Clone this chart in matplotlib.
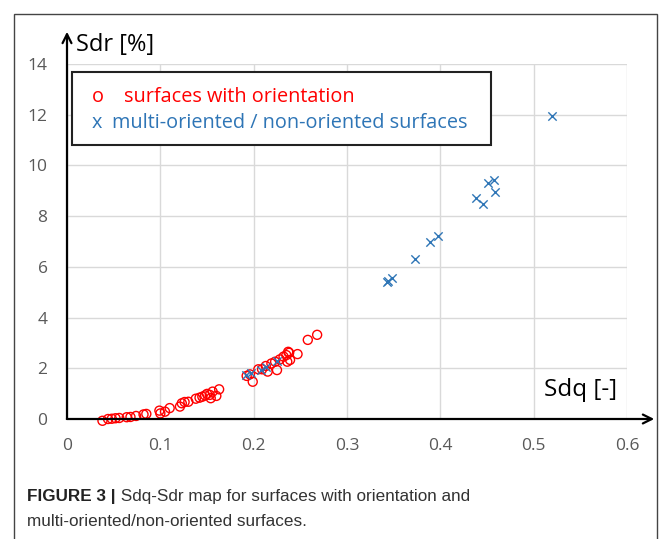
import matplotlib.pyplot as plt
from matplotlib.patches import Rectangle

# surfaces with orientation (red circles)
sdq_oriented = [0.038, 0.044, 0.048, 0.052, 0.056, 0.064, 0.068, 0.074, 0.082, 0.085,
                0.099, 0.100, 0.105, 0.110, 0.121, 0.123, 0.126, 0.130, 0.138, 0.142,
                0.145, 0.148, 0.150, 0.153, 0.154, 0.156, 0.160, 0.163,
                0.1925, 0.196, 0.199, 0.205, 0.209, 0.213, 0.215, 0.219, 0.223, 0.225,
                0.228, 0.232, 0.235, 0.236, 0.238, 0.237, 0.239, 0.247, 0.258, 0.268]
sdr_oriented = [-0.07, 0.0, 0.01, 0.03, 0.04, 0.07, 0.08, 0.12, 0.18, 0.20,
                0.33, 0.22, 0.29, 0.43, 0.49, 0.62, 0.67, 0.68, 0.80, 0.84,
                0.88, 0.93, 0.99, 0.95, 0.82, 1.08, 0.91, 1.17,
                1.70, 1.76, 1.47, 1.96, 1.96, 2.09, 1.87, 2.19, 2.26, 1.93,
                2.35, 2.46, 2.52, 2.26, 2.61, 2.65, 2.33, 2.56, 3.12, 3.32]

# multi-oriented / non-oriented surfaces (blue crosses)
sdq_multi = [0.192, 0.197, 0.208, 0.213, 0.225,
             0.343, 0.344, 0.348, 0.373, 0.389, 0.397,
             0.438, 0.446, 0.451, 0.4575, 0.459, 0.520]
sdr_multi = [1.75, 1.80, 1.95, 2.05, 2.30,
             5.42, 5.44, 5.57, 6.31, 6.97, 7.22,
             8.73, 8.49, 9.32, 9.42, 8.95, 11.95]

x_ticks = [0, 0.1, 0.2, 0.3, 0.4, 0.5, 0.6]
x_labels = ['0', '0.1', '0.2', '0.3', '0.4', '0.5', '0.6']
y_ticks = [0, 2, 4, 6, 8, 10, 12, 14]

W, H = 669, 539
red = '#ff0000'
blue = '#2e75b6'
grey = '#595959'
font = ['Open Sans', 'DejaVu Sans']
cap_font = ['Liberation Sans Narrow', 'Liberation Sans', 'DejaVu Sans']


def fx(px):
    return px / W


def fy(py):
    return 1 - py / H


fig = plt.figure(figsize=(W / 100, H / 100), dpi=100)
ax = fig.add_axes([fx(67), fy(419), fx(627) - fx(67), fy(64) - fy(419)])

ax.scatter(sdq_oriented, sdr_oriented, s=42, facecolors='none', edgecolors=red,
           linewidths=1.0, zorder=3, clip_on=False)
ax.scatter(sdq_multi, sdr_multi, s=36, marker='x', color=blue,
           linewidths=1.0, zorder=4)

ax.set_xlim(0, 0.6)
ax.set_ylim(0, 14)
ax.set_xticks(x_ticks)
ax.set_xticklabels(x_labels)
ax.set_yticks(y_ticks)
ax.grid(True, color='#d9d9d9', lw=1.0)
ax.set_axisbelow(True)
for s in ax.spines.values():
    s.set_visible(False)
ax.tick_params(length=0, labelsize=12.5, labelcolor=grey, pad=14)
for lbl in ax.get_xticklabels() + ax.get_yticklabels():
    lbl.set_family(font)

# axis arrows
arrow = dict(arrowstyle='->', lw=1.6, color='black', mutation_scale=16)
ax.annotate('', xy=(fx(657), fy(419)), xycoords='figure fraction',
            xytext=(fx(64), fy(419)), textcoords='figure fraction', arrowprops=arrow)
ax.annotate('', xy=(fx(67), fy(29)), xycoords='figure fraction',
            xytext=(fx(67), fy(421)), textcoords='figure fraction', arrowprops=arrow)

fig.text(fx(76), fy(45), 'Sdr [%]', fontsize=17, family=font, va='center', ha='left')
fig.text(fx(544), fy(390), 'Sdq [-]', fontsize=17.5, family=font, va='center', ha='left')

# legend box
fig.patches.append(Rectangle((fx(72), fy(145)), fx(491) - fx(72), fy(72) - fy(145),
                             transform=fig.transFigure, facecolor='white',
                             edgecolor='#222222', lw=1.5, zorder=5))
fig.text(fx(92), fy(97), 'o', color=red, fontsize=14.3, family=font, va='center', zorder=6)
fig.text(fx(124), fy(97), 'surfaces with orientation', color=red, fontsize=14.3,
         family=font, va='center', zorder=6)
fig.text(fx(92), fy(123), 'x', color=blue, fontsize=14.3, family=font, va='center', zorder=6)
fig.text(fx(112), fy(123), 'multi-oriented / non-oriented surfaces', color=blue,
         fontsize=14.3, family=font, va='center', zorder=6)

# outer frame
fig.patches.append(Rectangle((fx(14), fy(545)), fx(657) - fx(14), fy(14) - fy(545),
                             transform=fig.transFigure, facecolor='none',
                             edgecolor='#444444', lw=1.0))

# caption
t = fig.text(fx(27), fy(497), 'FIGURE 3 |', fontsize=12.3, fontweight='bold',
             family=cap_font, va='center', color='#222222')
ax.annotate(' Sdq-Sdr map for surfaces with orientation and', xy=(1, 0.5),
            xycoords=t, va='center', ha='left', fontsize=12.3, family=cap_font,
            color='#333333')
fig.text(fx(27), fy(521), 'multi-oriented/non-oriented surfaces.', fontsize=12.3,
         family=cap_font, va='center', color='#333333')

fig.savefig('out.png', dpi=100)
